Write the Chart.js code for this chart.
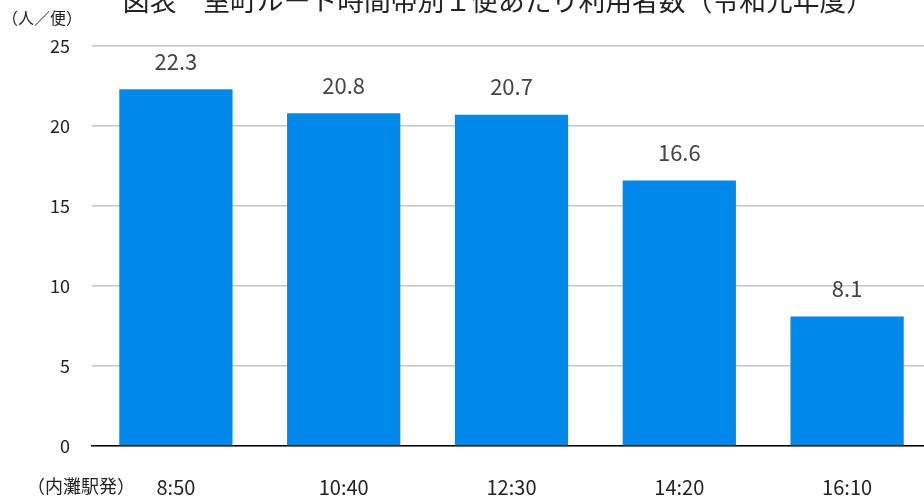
<!DOCTYPE html>
<html>
<head>
<meta charset="utf-8">
<script src="https://cdn.jsdelivr.net/npm/chart.js@4/dist/chart.umd.min.js"></script>
<style>
    html, body { margin: 0; padding: 0; background: #fff; overflow: hidden; }
    #wrap { width: 931px; height: 502px; position: relative; }
</style>
</head>
<body>
<div id="wrap"><canvas id="chartUsers"></canvas></div>
<script>
const titleText = "図表　室町ルート時間帯別１便あたり利用者数（令和元年度）";
const unitText = "（人／便）";
const originText = "（内灘駅発）";
const departures = ["8:50", "10:40", "12:30", "14:20", "16:10"];
const usersPerTrip = [22.3, 20.8, 20.7, 16.6, 8.1];
const yTicks = [0, 5, 10, 15, 20, 25];

const fontFamily = '"Noto Sans CJK JP", "Noto Sans", sans-serif';

const textPlugin = {
    id: 'textPlugin',
    afterDatasetsDraw(chart) {
        const ctx = chart.ctx;
        const meta = chart.getDatasetMeta(0);
        ctx.save();

        // values above bars
        ctx.font = '22px ' + fontFamily;
        ctx.fillStyle = '#444';
        ctx.textAlign = 'center';
        ctx.textBaseline = 'middle';
        meta.data.forEach((bar, i) => {
            ctx.fillText(usersPerTrip[i].toFixed(1), bar.x, bar.y - 28);
        });

        // title, cut off at the top
        ctx.font = '26.8px ' + fontFamily;
        ctx.fillStyle = '#222';
        ctx.fillText(titleText, 498, 1);

        // unit label
        ctx.font = '16px ' + fontFamily;
        ctx.textAlign = 'left';
        ctx.fillText(unitText, 2, 18);

        // origin label next to x ticks
        ctx.font = '18px ' + fontFamily;
        ctx.fillText(originText, 27, 486);
        ctx.restore();
    }
};

const chartUsers = new Chart(document.getElementById('chartUsers'), {
    type: 'bar',
    data: {
        labels: departures,
        datasets: [{
            data: usersPerTrip,
            backgroundColor: '#0088EA',
            categoryPercentage: 0.675,
            barPercentage: 1,
        }]
    },
    options: {
        responsive: true,
        maintainAspectRatio: false,
        animation: false,
        layout: {
            padding: { top: 46, right: 0, left: 0, bottom: 0 }
        },
        plugins: {
            legend: { display: false },
            tooltip: { enabled: false },
        },
        scales: {
            x: {
                grid: { display: false },
                border: { display: true, color: '#000', width: 1.5 },
                ticks: {
                    color: '#222',
                    padding: 21,
                    font: { size: 20, family: fontFamily },
                },
                afterFit(scale) { scale.height = 56; }
            },
            y: {
                min: 0,
                max: 25,
                afterBuildTicks(scale) {
                    scale.ticks = yTicks.map(v => ({ value: v }));
                },
                grid: { color: '#c6c6c6', lineWidth: 1.5, drawTicks: false },
                border: { display: false },
                ticks: {
                    color: '#222',
                    padding: 22,
                    font: { size: 18, family: fontFamily },
                },
                afterFit(scale) { scale.width = 92; }
            }
        }
    },
    plugins: [textPlugin]
});
</script>
</body>
</html>
